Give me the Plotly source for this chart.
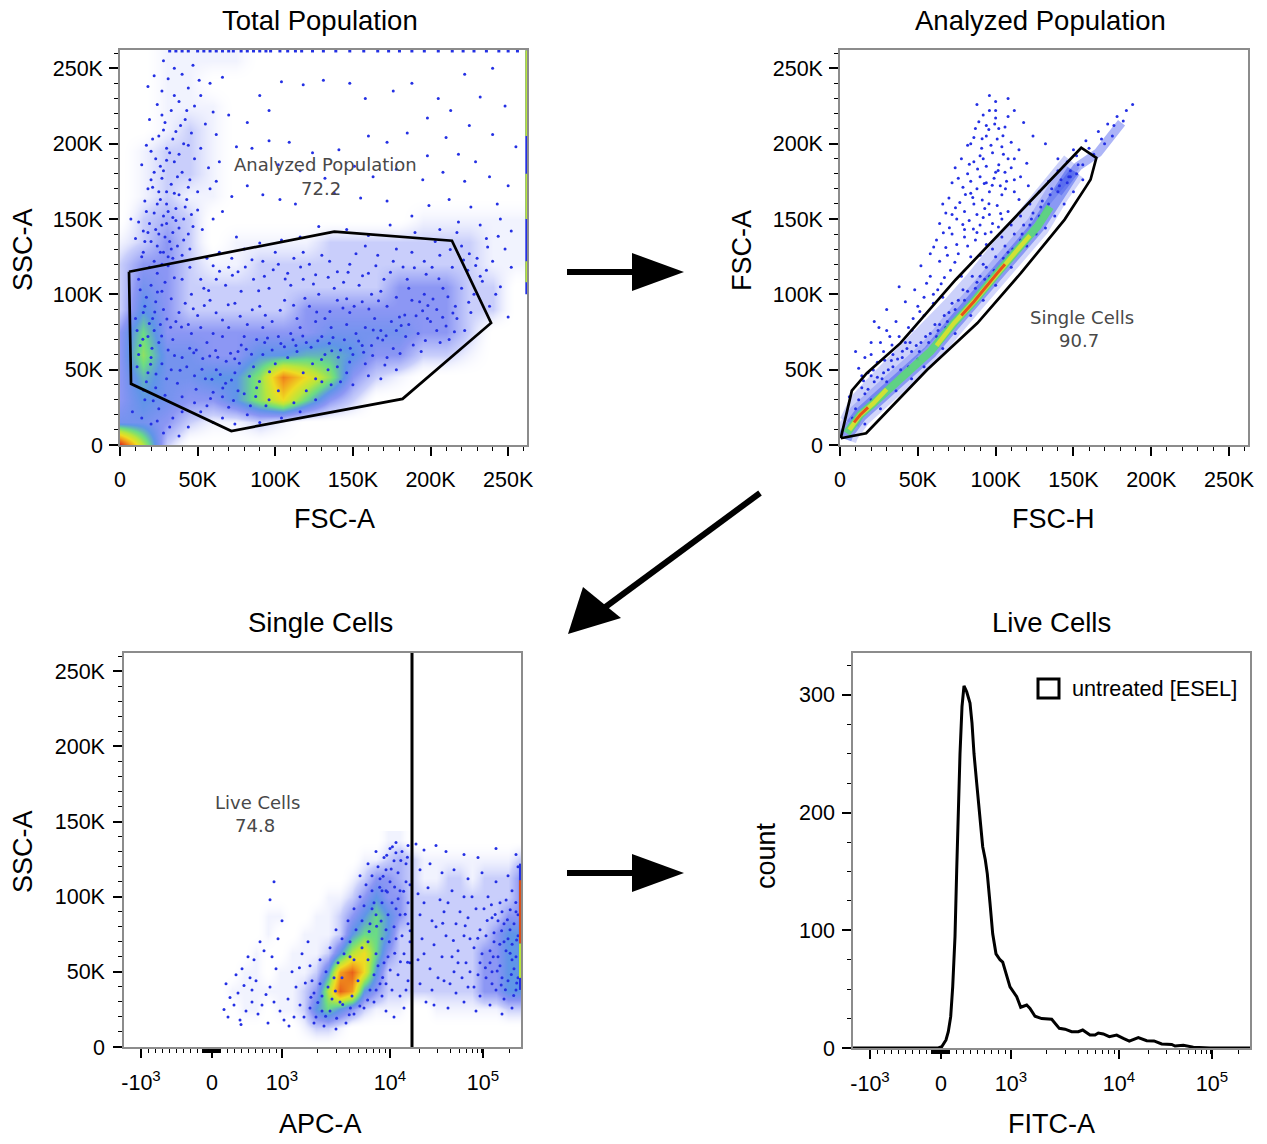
import plotly.graph_objects as go

W, H = 1267, 1144
BLUE = "#2430e4"

# ---------- Panel 1: Total Population (values in thousands) ----------
P1_GRID_X = [0, 15, 30, 45, 60, 75, 90, 105, 120, 135, 150, 165, 180, 195, 210, 225, 240, 255]
P1_GRID_Y = [0, 15, 30, 45, 60, 75, 90, 105, 120, 135, 150, 165, 180, 195, 210, 225, 240, 255]
P1_DENSITY = [
    [9, 5, 1, 0, 0, 0, 0, 0, 0, 0, 0, 0, 0, 0, 0, 0, 0, 0],
    [2.5, 2.5, 2, 1, .5, .5, 1, .5, 0, 0, 0, 0, 0, 0, 0, 0, 0, 0],
    [2, 3, 2.5, 2, 2, 3, 4.5, 6, 4, 2, 1, 0, 0, 0, 0, 0, 0, 0],
    [2, 3.5, 2.5, 2.5, 3, 3, 4.5, 7.5, 6, 4.5, 2, 1, .5, 0, 0, 0, 0, 0],
    [2, 4.5, 2.5, 2.5, 2, 2, 3, 3, 3.5, 3.5, 3, 2, 2, 1, 1, .5, 0, 0],
    [2, 4, 2, 2, 2, 2, 2, 2, 2, 2.5, 2.5, 2.5, 2.5, 2, 2, 1, 0, 0],
    [1, 3, 2, 1, 1, 1, 1, 1, 2, 2, 2, 2, 2, 2, 2, 1, 1, 0],
    [1, 2.5, 2, 1, 1, 1, 1, 1, 1, 1, 1, 1, 2, 2, 2, 1, 1, 0],
    [1, 2, 2, 1, .5, .5, 1, 1, 1, 1, 1, 1, 1, 1, 1, 1, .5, .5],
    [.5, 1, 2, 1, 0, .5, .5, .5, .5, 1, 1, 1, 1, 1, 1, 1, .5, .5],
    [0, 1, 1.5, 1, 0, 0, 0, 0, 0, 0, 0, 0, 0, .5, .5, .5, .5, .5],
    [0, .5, 1, .5, .5, 0, 0, 0, 0, 0, 0, 0, 0, 0, 0, 0, 0, 0],
    [0, .5, 1, 1, .5, 0, 0, 0, 0, 0, 0, 0, 0, 0, 0, 0, 0, 0],
    [0, .5, 1, 1, .5, 0, 0, 0, 0, 0, 0, 0, 0, 0, 0, 0, 0, 0],
    [0, 0, .5, 1, .5, 0, 0, 0, 0, 0, 0, 0, 0, 0, 0, 0, 0, 0],
    [0, 0, .5, .5, .5, 0, 0, 0, 0, 0, 0, 0, 0, 0, 0, 0, 0, 0],
    [0, 0, .5, .5, 0, 0, 0, 0, 0, 0, 0, 0, 0, 0, 0, 0, 0, 0],
    [0, 0, .5, .5, .5, .5, 0, 0, 0, 0, 0, 0, 0, 0, 0, 0, 0, 0],
]
P1_DOTS = [
 (28,255),(35,250),(47,252),(22,245),(31,243),(40,246),(58,240),(18,238),(27,235),(44,237),(52,232),(66,244),
 (38,228),(24,226),(33,222),(48,225),(60,221),(19,216),(29,214),(42,216),(55,213),(70,219),(36,208),(25,205),
 (46,207),(62,206),(17,199),(30,197),(41,200),(52,197),(23,190),(35,188),(48,190),(14,186),(28,182),(40,181),
 (57,184),(20,176),(33,173),(45,176),(62,175),(25,168),(38,166),(50,168),(16,162),(30,160),(42,158),(22,154),
 (34,151),(46,153),(12,148),(27,146),(38,144),(18,141),(29,138),(41,136),(24,132),(33,130),(15,128),(45,130),
 (21,171),(26,163),(31,155),(36,149),(19,147),(23,143),(28,152),(17,155),(34,141),(20,135),(26,128),(31,125),
 (37,132),(22,122),(16,135),(30,168),(37,178),(26,185),(32,194),(21,203),(39,212),(27,219),(44,171),(50,156),
 (10,137),(7,150),(53,143),(60,150),(66,155),(72,165),(64,188),(75,198),(58,170),(35,232),(43,222),(51,242),
 (82,214),(90,232),(96,222),(104,241),(118,239),(131,242),(148,240),(158,230),(176,235),(188,240),(205,230),(222,246),
 (240,250),(232,231),(248,225),(213,222),(198,217),(225,212),(210,204),(240,206),(255,198),(218,193),(229,188),(198,192),
 (85,197),(96,202),(109,201),(124,194),(141,196),(160,205),(172,201),(185,207),(102,186),(116,182),(132,177),(151,185),
 (163,178),(178,183),(195,176),(208,181),(222,175),(238,178),(250,172),(243,160),(226,158),(212,163),(199,159),(188,152),
 (82,172),(92,166),(103,163),(113,160),(138,167),(155,164),(172,162),(218,148),(232,146),(245,150),(252,142),(206,143),
 (75,138),(90,134),(104,136),(116,138),(128,145),(146,143),(160,139),(174,146),(190,141),(203,135),(217,141),(236,137),
 (248,130),(225,127),(240,122),(252,118),(232,112),(245,105),(228,100),(238,92),(226,88),(250,85),(222,76),(212,70),
 (12,110),(20,106),(27,102),(35,111),(45,118),(52,110),(60,119),(68,106),(76,115),(85,123),(93,112),(102,120),
 (110,106),(118,128),(126,113),(135,122),(144,108),(152,127),(160,114),(168,102),(176,122),(185,110),(193,95),(201,118),
 (208,104),(216,92),(198,84),(188,96),(180,85),(172,92),(164,84),(156,95),(148,88),(140,96),(132,84),(122,92),
 (114,84),(106,96),(98,82),(90,92),(82,80),(74,94),(66,83),(58,96),(50,86),(42,94),(36,82),(28,90),
 (16,92),(10,84),(22,76),(34,70),(46,74),(56,68),(66,72),(76,62),(88,70),(98,63),(110,74),(120,68),
 (130,72),(142,63),(152,74),(162,66),(172,58),(184,72),(194,62),(204,76),(146,48),(158,54),(168,44),(178,50),
 (136,40),(126,30),(116,22),(104,18),(94,26),(82,20),(70,25),(60,35),(48,46),(40,58),(30,44),(18,48),
 (12,60),(25,24),(16,30),(34,18),(44,12),(28,8),(38,6),(52,22),(8,22),(60,15),(20,14),(90,15),
 (14,125),(19,118),(24,114),(31,119),(13,103),(17,98),(23,95),(29,108),(33,97),(15,88),(21,84),(26,80),
 (11,76),(18,72),(25,68),(31,63),(13,66),(20,58),(27,54),(33,50),(11,52),(17,42),(23,38),(29,33),
 (37,41),(43,52),(49,37),(55,44),(62,50),(68,41),(74,48),(80,34),(86,52),(92,60),(100,54),(108,58),
 (114,62),(124,54),(132,60),(140,52),(150,60),(156,66),(166,71),(176,64),(186,80),(192,74),(200,82),(210,79),
 (217,84),(204,90),(196,100),(186,104),(178,98),(170,110),(162,100),(154,106),(146,97),(138,104),(128,100),(118,110),
 (108,114),(96,104),(86,110),(78,102),(70,118),(62,110),(54,104),(46,100),(40,110),(38,88),(44,80),(52,78),
 (60,74),(70,78),(80,72),(92,78),(102,72),(116,78),(126,82),(136,78),(146,80),(158,78),(168,76),(178,76),
 (220,104),(224,116),(214,118),(206,126),(196,122),(188,128),(178,130),(166,126),(158,132),(148,120),(140,115),(130,126),
 (122,120),(112,124),(100,128),(92,122),(80,130),(72,124),(64,128),(56,124),(230,124),(236,116),(242,100),(220,132),
 (40,32),(48,28),(56,26),(66,18),(74,14),(84,26),(96,30),(102,36),(112,28),(120,36),(130,42),(142,42),
 (150,40),(160,46),(24,16),(32,12),(14,18),(40,22),(66,32),(76,36),(88,38),(118,48),(126,44),(134,50),
 (27,120),(34,124),(40,126),(25,140),(30,147),(36,157),(24,160),(18,170),(27,177),(35,167),(43,163),(22,181),
 (30,189),(38,193),(44,199),(34,203),(28,209),(20,195),(41,150),(47,145),(15,142),(32,135),(28,128),(44,140),
 (47.5,61.2),(49.1,63),(53.3,57.4),(57.8,59.1),(61.6,62.7),(63,58.2),(68.4,55.6),(71.2,60.9),(73.9,57.3),(78.1,66.4),(81.3,63.5),(84.7,60.2),
 (93.2,68.1),(95,71),(103.6,67.3),(105.9,65.2),(111.4,69.8),(113.3,66.1),(117.7,72.4),(123.1,64.9),(127.4,69.2),(134.8,67.6),(137.2,71.3),(144.5,69.9),
 (148.3,64.2),(153.7,69.1),(156.9,61.5),(163.1,76.4),(169.2,69.7),(171.4,72.5),(174.8,81.9),(181.1,79.3),(183.4,86.2),(190.7,85.8),(194.9,89.1),(198.3,92.6),
 (201.6,96.9),(207.8,84.7),(211.2,98.4),(214.4,87.6),(160.3,90.2),(166.5,95.7),(150.8,92.1),(143.6,91),(135.2,88.6),(126.7,88.2),(119.1,97.4),(111.8,92.7),
 (103.2,89.4),(93.6,86.1),(85.2,89.7),(77.4,85.5),(69.7,93.1),(61.9,87.8),(54.3,92.6),(47.2,90.4),(39.6,78.3),(35.1,59.4),(38.7,49.6),(44.9,64.2),
 (52.8,50.2),(59.2,43.7),(64.6,46.8),(71.8,43.2),(76.9,54.2),(83.4,45.7),(89.8,42.1),(96.3,48.6),(66.2,37.9),(58.3,30.8),(73.1,29.6),(87.4,32.2),
 (140.6,58.3),(147.9,55.1),(136.4,62.6),(129.8,56.7),(162.7,59.4),(170.6,53.1),(180.4,60.8),(188.9,66.3),(196.7,69.4),(206.2,68.1),(215.4,75.2),(224.6,94.8),
 (20.6,64.2),(22.4,88.3),(18.9,80.7),(24.1,101.6),(14.7,70.1),(26.8,72.4),(30.2,83.6),(32.6,78.1),(19.7,53.6),(23.2,47.1),(15.2,36.4),(21.4,29.3),
 (233.4,108.6),(236.8,131.4),(243.6,138.6),(229.1,119.2),(221.3,122.7),(212.7,129.8),(205.4,110.3),(197.2,113.4),(189.6,117.6),(182.3,118.1),(174.2,114.7),(164.8,118.9),
 (156.2,112.4),(146.9,114.6),(134.1,111.3),(124.6,106.9),(116.3,118.2),(106.4,110.2),(98.7,116.3),(89.3,102.4),(80.7,118.1),(72.4,112.6),(64.1,115.3),(57.1,102.6),
]
P1_TOP_X = [32, 36, 40, 44, 50, 54, 58, 62, 66, 70, 73, 78, 82, 86, 90, 94, 97, 103, 108, 113, 117, 124, 131, 139, 148, 157, 166, 173, 180, 188, 196, 205, 214, 221, 228, 236, 244, 250, 256]
P1_TOP_Y = [261.5] * len(P1_TOP_X)
P1_EDGE_Y = [100, 262]
P1_EDGE_X = [261.7, 261.7]
P1_EDGE_HOT_Y = [108, 122, None, 150, 180, None, 205, 262]
P1_EDGE_HOT_X = [261.7, 261.7, None, 261.7, 261.7, None, 261.7, 261.7]
GATE1_X = [5.8, 7.1, 71.7, 182, 239, 213.8, 138, 5.8]
GATE1_Y = [115, 40.6, 9.3, 30.6, 81, 135.6, 141.6, 115]

# ---------- Panel 2: Analyzed Population (values in thousands) ----------
BAND_X = [3, 4.3, 12.9, 21.5, 36.6, 58.1, 73.2, 86.1, 101.2, 114.2, 127, 140, 150]
BAND_Y = [4, 7.8, 19.9, 27.7, 42.1, 62, 80.9, 95.3, 114.2, 129.7, 145.2, 167.4, 182]
UPPER_X = [6, 12, 21, 36, 57, 72, 85, 100, 113, 126, 139, 149]
UPPER_Y = [15, 28, 38, 53, 73, 92, 107, 126, 142, 158, 176, 188]
TAIL_X = [140, 152.9, 165.8, 180.9]
TAIL_Y = [167.4, 185, 194, 213.9]
CORE_X = [4.3, 12.9, 21.5, 36.6, 58.1, 73.2, 86.1, 101.2, 114.2, 127, 135]
CORE_Y = [7.8, 19.9, 27.7, 42.1, 62, 80.9, 95.3, 114.2, 129.7, 145.2, 158]
YELLOW_X = [6, 12.9, 21.5, 30, None, 62, 73.2, 86.1, 101.2, 114.2, 122]
YELLOW_Y = [10, 19.9, 27.7, 37, None, 66, 80.9, 95.3, 114.2, 129.7, 139]
RED_X = [9, 12.9, 18, None, 78, 86.1, 101.2, 106]
RED_Y = [15, 19.9, 25, None, 86, 95.3, 114.2, 120]
P2_DOTS = [
 (100,228),(88,226),(96,232),(108,230),(112,222),(92,219),(100,217),(106,211),(118,214),(87,210),(94,205),(101,203),
 (110,201),(82,199),(91,197),(98,194),(105,193),(115,196),(124,205),(78,190),(86,188),(94,185),(102,186),(110,184),
 (120,187),(74,184),(82,180),(90,178),(99,177),(107,175),(116,178),(72,174),(79,171),(88,170),(96,168),(104,166),
 (112,168),(70,164),(77,161),(86,160),(93,157),(101,159),(108,155),(68,154),(75,150),(83,149),(90,146),(98,147),
 (64,147),(72,140),(80,138),(87,136),(94,133),(62,136),(68,131),(76,127),(84,125),(58,127),(64,122),(71,116),
 (78,112),(52,119),(58,112),(65,107),(48,103),(54,98),(60,94),(42,95),(38,105),(30,90),(36,82),(25,78),
 (32,72),(20,68),(28,62),(16,58),(24,55),(12,51),(18,48),(34,60),(42,68),(47,84),(22,82),(10,62),
 (102,210),(96,222),(84,200),(90,192),(97,199),(108,190),(76,177),(84,167),(92,151),(103,172),(115,163),(121,172),
 (132,200),(140,190),(150,196),(158,202),(166,208),(172,213),(178,218),(184,222),(170,200),(163,193),(175,205),(182,215),
 (156,186),(148,178),(160,197),(168,203),(176,212),(188,226),
 (10,24),(16,34),(22,42),(28,48),(34,52),(40,58),(46,62),(52,68),(58,74),(64,80),(70,88),(76,96),
 (82,102),(88,108),(94,118),(100,125),(106,132),(112,140),(118,146),(124,154),(130,162),(136,170),(142,176),(148,182),
 (20,30),(30,42),(44,52),(50,57),(62,72),(68,78),(74,90),(80,96),(90,112),(96,112),(108,128),(116,136),
 (122,146),(128,152),(134,160),(140,168),(146,174),(152,180),(156,176),(150,168),(144,160),(138,152),(132,144),(126,140),
 (120,132),(110,118),(100,106),(92,96),(84,86),(74,74),(66,64),(54,52),(46,44),(36,36),(26,24),(16,14),
 (12,30),(18,37),(24,45),(31,50),(37,57),(43,64),(49,66),(55,72),(61,80),(67,86),(72,94),(79,103),
 (85,112),(92,120),(98,130),(104,138),(110,146),(116,152),(122,160),(128,168),(134,175),(140,182),(146,188),(152,192),
 (14,38),(20,46),(27,44),(33,56),(39,50),(45,68),(51,62),(57,68),(63,76),(69,82),(75,84),(81,90),
 (87,104),(93,110),(99,116),(105,124),(111,130),(117,140),(123,150),(129,158),(135,166),(141,172),(147,178),(153,186),
 (66,160),(72,153),(80,155),(88,153),(96,153),(104,150),(80,143),(88,141),(75,133),(82,132),(69,126),(90,126),
 (94,174),(100,181),(106,181),(112,176),(84,175),(92,190),(86,204),(104,198),(112,190),(100,222),(94,212),(108,218),
 (54,86),(60,100),(66,98),(50,92),(44,78),(38,72),(30,76),(26,68),(20,60),(14,46),(6,32),(8,18),
 (91.3,203.2),(95.6,209.4),(89.2,214.6),(99.4,213.1),(104.7,205.3),(83.1,186.4),(88.4,183.2),(92.7,173.6),(97.8,172.4),(101.6,182.2),(106.3,170.1),(80.6,166.2),
 (85.3,164.3),(91.4,162.6),(95.7,160.1),(103.2,153.6),(74.2,157.4),(78.9,146.3),(85.7,143.4),(93.3,140.2),(97.1,141.3),(101.8,144.6),(70.3,144.2),(66.4,140.9),
 (60.2,131.4),(73.8,121.3),(67.1,111.2),(55.6,107.4),(62.8,103.1),(51.3,88.6),(46.2,76.2),(33.4,66.4),(40.1,62.2),(28.7,56.3),(21.4,49.8),(15.1,42.7),
]
GATE2_X = [0.5, 7.6, 17.2, 38.8, 74.3, 155, 164.7, 161, 158.3, 144.3, 116.3, 88.3, 56, 16.8, 0.5]
GATE2_Y = [4.5, 36.1, 47.7, 67.6, 109.7, 197.3, 190.6, 176.2, 171.8, 149.6, 114.2, 80.9, 49.9, 7.8, 4.5]

# ---------- Panel 3: Single Cells (x = biexponential display channel, y in thousands) ----------
P3_GRID_X = [96, 108, 120, 132, 144, 156, 168, 180, 192, 204, 216, 228, 240, 252, 264, 276, 288, 300, 312, 324, 336, 348, 360, 372, 384, 396]
P3_GRID_Y = [0, 12.5, 25, 37.5, 50, 62.5, 75, 87.5, 100, 112.5, 125, 137.5]
P3_DENSITY = [
    [0] * 26,
    [0, 0, 0, 0, 0, 0, 0, .5, 1, 1, .5, 0, 0, 0, 0, 0, 0, 0, 0, 0, 0, 0, 0, 0, 0, 0],
    [0, 0, .5, .5, 0, .5, .5, 1, 3, 4, 3, 2, 1, .5, .5, .5, 0, 0, .5, .5, .5, .5, .5, .5, 1, 1],
    [0, .5, .5, .5, .5, .5, .5, 1, 2, 5, 8, 7, 3, 2, 1, 1, 1, 1, 1, 1, 1, 1, 2, 2, 3, 3],
    [0, 0, .5, .5, 0, .5, .5, .5, 1, 3, 7, 8, 6, 3, 1, 1, 1, 1, 1, 1, 1, 1, 2, 2, 3, 3],
    [0, 0, 0, .5, 0, 0, .5, .5, .5, 1, 3, 5, 6, 4, 2, 1, 1, 1, 1, 1, 1, 1, 2, 2, 3, 3],
    [0, 0, 0, 0, .5, 0, 0, .5, .5, .5, 1, 3, 4, 4, 3, 1, 1, 1, 1, 1, 1, 1, 1, 2, 3, 3],
    [0, 0, 0, 0, .5, .5, 0, 0, .5, .5, 1, 2, 3, 4, 3, 2, 1, 1, 1, 1, 1, 1, 1, 1, 2, 2],
    [0, 0, 0, 0, 0, 0, 0, 0, 0, .5, .5, 1, 2, 3, 2, 2, 1, 1, 1, 1, 1, 1, 1, 1, 1, 2],
    [0, 0, 0, 0, 0, 0, 0, 0, 0, 0, 0, .5, 1, 2, 2, 1.5, 1, .5, .5, 1, 1, .5, 1, 1, 1, 2],
    [0, 0, 0, 0, 0, 0, 0, 0, 0, 0, 0, 0, .5, .5, 1, 1.5, 1, .5, .5, .5, .5, .5, .5, .5, .5, 1],
    [0, 0, 0, 0, 0, 0, 0, 0, 0, 0, 0, 0, 0, 0, .5, .5, 0, 0, 0, 0, 0, 0, 0, 0, 0, 0],
]
P3_DOTS = [
 (100,25),(104,20),(110,28),(106,33),(116,18),(122,24),(128,30),(114,36),(134,22),(138,28),(142,35),(120,41),
 (126,46),(112,48),(118,52),(132,44),(130,58),(146,40),(150,30),(156,24),(160,18),(152,52),(148,60),(140,64),
 (136,70),(124,60),(154,72),(158,84),(146,98),(150,110),(128,38),(102,42),(117,15),(144,16),(165,14),(170,20),
 (164,32),(172,40),(176,28),(168,50),(178,62),(184,70),(186,54),(180,20),(190,16),(200,14),(212,12),(222,16),
 (230,22),(240,26),(250,30),(258,34),(262,24),(270,20),(280,26),(190,36),(196,58),(206,66),(212,78),(218,72),
 (224,84),(230,92),(236,100),(242,108),(248,114),(254,120),(260,126),(266,132),(272,136),(278,130),(284,134),(250,96),
 (258,104),(266,110),(274,116),(282,122),(268,96),(276,88),(284,96),(272,72),(280,62),(286,70),(264,60),(274,48),
 (284,44),(262,42),(252,88),(238,84),(226,60),(210,46),(198,34),(206,24),(216,30),(228,34),(262,78),(244,70),
 (292,135),(300,131),(312,134),(322,130),(340,128),(354,126),(372,132),(392,128),(296,118),(306,122),(318,116),(330,118),
 (344,112),(358,116),(372,110),(384,114),(394,120),(294,102),(304,106),(316,98),(328,104),(340,100),(352,92),(364,100),
 (376,96),(388,104),(296,88),(308,84),(320,90),(332,82),(344,86),(356,78),(368,86),(380,82),(392,90),(298,72),
 (310,68),(322,74),(334,64),(346,72),(358,62),(370,70),(382,64),(394,74),(294,58),(306,52),(318,60),(330,50),
 (342,56),(354,48),(366,56),(378,46),(390,52),(296,42),(308,38),(320,44),(332,36),(344,40),(356,34),(368,42),
 (380,32),(392,38),(310,28),(324,26),(340,30),(352,24),(366,28),(378,22),(388,26),(302,30),
 (186,26),(192,20),(196,42),(202,50),(208,32),(214,56),(220,62),(226,70),(232,78),(238,66),(244,58),(250,48),
 (256,42),(252,62),(258,72),(246,82),(240,94),(248,104),(256,112),(262,118),(270,124),(276,104),(282,110),(264,88),
 (270,80),(278,74),(284,82),(260,56),(268,38),(276,34),(246,38),(234,44),(254,54),(236,114),(244,122),(252,130),
 (258,96),(286,56),(282,38),(286,108),(272,92),(262,104),(248,92),(230,58),(218,46),(204,40),(198,24),(188,44),
 (300,96),(312,80),(324,96),(336,90),(348,100),(360,92),(370,76),(378,90),(386,78),(394,88),(350,66),(362,74),
 (374,60),(384,72),(392,60),(340,74),(328,60),(300,62),(314,46),(326,42),(338,46),(350,40),(362,46),(372,38),
 (384,44),(394,46),(368,50),(376,54),(388,58),(356,56),(346,50),(334,56),(366,64),(380,70),(390,82),(374,84),
 (263.4,103.2),(267.2,118.4),(259.1,113.6),(255.7,106.3),(270.6,106.4),(274.1,98.6),(279.6,103.7),(283.4,126.2),(276.8,124.1),(271.9,129.3),(262.7,127.6),(268.4,133.2),
 (245.2,76.8),(252.6,80.3),(257.1,83.9),(265.3,70.1),(270.7,62.4),(276.4,56.8),(266.2,51.3),(258.6,46.2),(252.1,37.9),(243.6,31.2),(235.8,27.3),(226.4,25.9),
 (201.6,20.4),(193.8,29.6),(186.9,33.1),(181.3,42.6),(175.4,52.8),(212.6,19.2),(225.2,21.4),(218.7,28.3),(211.4,37.2),(283.6,56.4),(286.1,77.4),(281.2,88.3),
 (363.2,84.1),(367.4,94.6),(371.2,88.2),(377.6,77.4),(383.4,84.6),(388.1,68.3),(392.6,71.2),(386.2,91.4),(382.1,97.8),(391.8,96.2),(375.8,68.4),(369.2,60.1),
 (361.4,52.7),(373.2,50.6),(381.4,38.1),(387.3,48.2),(392.7,42.6),(377.2,41.3),(389.7,34.2),(386.1,62.4),(353.8,72.4),(341.2,80.6),(329.4,70.8),(318.7,82.4),
]
P3_EDGE_BLUE_Y = [38, 122]
P3_EDGE_YELLOW_Y = [46, 69]
P3_EDGE_RED_Y = [69, 111]
GATE3_X = [288, 288]
GATE3_Y = [-2, 262.144]

# ---------- Panel 4: Live Cells histogram ----------
HIST_X = [0, 85.3, 88.7, 93, 95.3, 97.7, 99.7, 102, 103.7, 105.3, 107, 109, 111, 113.7, 117, 119, 121, 123.7, 126.3,
          129.7, 132.3, 134.3, 137, 139.7, 143, 147, 149.7, 152, 157, 163.7, 167.7, 173.7, 177, 182, 188.7, 198.7,
          206.3, 212, 218.7, 225.3, 229.7, 237, 242, 245.3, 250.3, 256.3, 263.7, 270.3, 276.3, 285.3, 293.7, 301,
          308.7, 318.7, 322, 330.3, 340.3, 357, 397]
HIST_Y = [0, 0, 1.1, 6.8, 13.9, 26.6, 52, 94.6, 151, 208, 250, 290, 307.6, 302.7, 293, 276, 250, 225, 199,
          171, 160, 148, 123, 97, 80, 75, 73, 66, 52, 43.6, 34.6, 36.5, 33.7, 27, 25, 24.4,
          16.7, 16, 13.9, 13.9, 15.3, 11, 11, 12.7, 11.9, 9.6, 11, 8.2, 5.9, 8.8, 6.2, 6,
          3.4, 3, 1.7, 2.4, 0.7, 0, 0]

# Axis ticks
K_TICKS = [0, 50, 100, 150, 200, 250]
K_LABELS = ["0", "50K", "100K", "150K", "200K", "250K"]
BI_TICKS = [17, 88, 158, 266, 359]
BI_LABELS = ["-10<sup>3</sup>", "0", "10<sup>3</sup>", "10<sup>4</sup>", "10<sup>5</sup>"]
BI_MINOR = [24, 31, 38, 45, 52, 59, 66, 73, 78, 79, 80, 81, 82, 83, 84, 85, 86, 87, 88, 89, 90, 91, 92, 93, 94, 95, 96,
            103, 110, 117, 124, 131, 138, 145, 152, 193, 212, 225, 234, 242, 249, 255, 261,
            295, 313, 326, 335, 342, 348, 353, 357, 385]

COLORSCALE = [
    [0, "rgba(255,255,255,0)"], [1/9, "rgba(60,80,240,0.28)"], [2/9, "rgba(45,65,235,0.55)"],
    [3/9, "rgba(50,120,225,0.78)"], [4/9, "rgba(90,215,120,0.9)"], [5/9, "#b8e63c"],
    [6/9, "#eedc22"], [7/9, "#f2a01e"], [8/9, "#e8601a"], [1, "#d9261a"],
]
FONT = "Liberation Sans, Arial, sans-serif"
LABEL_FONT = "DejaVu Sans, sans-serif"


def unzip(pairs):
    return [p[0] for p in pairs], [p[1] for p in pairs]


fig = go.Figure()


def add_dots(pairs, ax):
    xs, ys = unzip(pairs)
    fig.add_trace(go.Scatter(x=xs, y=ys, mode="markers", xaxis=f"x{ax}", yaxis=f"y{ax}",
                             marker=dict(size=3, color=BLUE, line=dict(width=0)), hoverinfo="skip"))


def add_line(xs, ys, ax, color, width):
    fig.add_trace(go.Scatter(x=xs, y=ys, mode="lines", xaxis=f"x{ax}", yaxis=f"y{ax}",
                             line=dict(color=color, width=width), hoverinfo="skip"))


def add_density(gx, gy, z, ax):
    fig.add_trace(go.Heatmap(x=gx, y=gy, z=z, xaxis=f"x{ax}", yaxis=f"y{ax}", zmin=0, zmax=9, zsmooth="best",
                             colorscale=COLORSCALE, showscale=False, hoverinfo="skip"))


# Panel 1
add_density(P1_GRID_X, P1_GRID_Y, P1_DENSITY, 1)
add_dots(P1_DOTS, 1)
add_line(P1_EDGE_X, P1_EDGE_Y, 1, BLUE, 2)
add_line(P1_EDGE_HOT_X, P1_EDGE_HOT_Y, 1, "#b8e63c", 2)
fig.add_trace(go.Scatter(x=P1_TOP_X, y=P1_TOP_Y, mode="markers", xaxis="x1", yaxis="y1", hoverinfo="skip",
                         marker=dict(size=3, symbol="square", color=BLUE, line=dict(width=0))))
add_line(GATE1_X, GATE1_Y, 1, "black", 2.7)

# Panel 2
add_line(BAND_X, BAND_Y, 2, "rgba(50,70,235,0.22)", 24)
add_line(UPPER_X, UPPER_Y, 2, "rgba(50,70,235,0.25)", 20)
add_line(TAIL_X, TAIL_Y, 2, "rgba(50,70,235,0.4)", 9)
add_line(BAND_X, BAND_Y, 2, "rgba(50,80,235,0.45)", 14)
add_dots(P2_DOTS, 2)
add_line(CORE_X, CORE_Y, 2, "rgba(90,215,120,0.9)", 8)
add_line(YELLOW_X, YELLOW_Y, 2, "#cfe235", 4.5)
add_line(RED_X, RED_Y, 2, "#e8501a", 3)
add_line(GATE2_X, GATE2_Y, 2, "black", 2.7)

# Panel 3
add_density(P3_GRID_X, P3_GRID_Y, P3_DENSITY, 3)
add_dots(P3_DOTS, 3)
add_line([396.2, 396.2], P3_EDGE_BLUE_Y, 3, BLUE, 2.5)
add_line([396.2, 396.2], P3_EDGE_YELLOW_Y, 3, "#b8e63c", 2.5)
add_line([396.2, 396.2], P3_EDGE_RED_Y, 3, "#d9501a", 2.5)
fig.add_trace(go.Scatter(x=GATE3_X, y=GATE3_Y, mode="lines", xaxis="x3", yaxis="y3", cliponaxis=False,
                         line=dict(color="black", width=3), hoverinfo="skip"))

# Panel 4
add_line(HIST_X, HIST_Y, 4, "black", 3)


def px_x(v):
    return v / W


def px_y(v):
    return 1 - v / H


def axis_common(domain_px, anchor, axis):
    lo, hi = domain_px
    if axis == "x":
        d = [px_x(lo), px_x(hi)]
    else:
        d = [px_y(hi), px_y(lo)]
    return dict(domain=d, anchor=anchor, automargin=False, showgrid=False, zeroline=False, showline=True, mirror=True,
                linecolor="#8c8c8c", linewidth=1.5, ticks="outside", ticklen=9, tickwidth=2, tickcolor="black",
                tickfont=dict(family=FONT, size=21.5, color="black"), layer="above traces")


def k_axis(domain_px, anchor, axis, standoff):
    a = axis_common(domain_px, anchor, axis)
    a.update(range=[0, 262.144], tickmode="array", tickvals=K_TICKS, ticktext=K_LABELS,
             ticklabelstandoff=standoff,
             minor=dict(dtick=10, ticks="outside", ticklen=4, tickwidth=1, tickcolor="black"))
    return a


def bi_axis(domain_px, anchor):
    a = axis_common(domain_px, anchor, "x")
    a.update(range=[0, 397], tickmode="array", tickvals=BI_TICKS, ticktext=BI_LABELS,
             ticklabelstandoff=6,
             minor=dict(tickmode="array", tickvals=BI_MINOR, ticks="outside", ticklen=4, tickwidth=1, tickcolor="black"))
    return a


count_axis = axis_common((653, 1048), "x4", "y")
count_axis.update(range=[0, 335.6], tickmode="array", tickvals=[0, 100, 200, 300], ticktext=["0", "100", "200", "300"],
                  ticklabelstandoff=3,
                  minor=dict(dtick=25, ticks="outside", ticklen=4, tickwidth=1, tickcolor="black"))

fig.update_layout(
    template="none",
    width=W, height=H, margin=dict(l=0, r=0, t=0, b=0, pad=0, autoexpand=False), showlegend=False,
    paper_bgcolor="white", plot_bgcolor="white",
    xaxis1=k_axis((120, 527), "y1", "x", 5), yaxis1=k_axis((50, 445), "x1", "y", 2),
    xaxis2=k_axis((840, 1248), "y2", "x", 5), yaxis2=k_axis((50, 445), "x2", "y", 2),
    xaxis3=bi_axis((124, 521), "y3"), yaxis3=k_axis((653, 1047), "x3", "y", 4),
    xaxis4=bi_axis((853, 1250), "y4"), yaxis4=count_axis,
)

TEXTS = [
    # text, x px, y px, size, rotation, family, colour
    ("Total Population", 320, 21, 27.5, 0, FONT, "black"),
    ("Analyzed Population", 1040, 21, 27.5, 0, FONT, "black"),
    ("Single Cells", 320, 622, 27.5, 0, FONT, "black"),
    ("Live Cells", 1051, 622, 27.5, 0, FONT, "black"),
    ("FSC-A", 334, 519, 27, 0, FONT, "black"),
    ("FSC-H", 1053, 519, 27, 0, FONT, "black"),
    ("APC-A", 320, 1124, 27, 0, FONT, "black"),
    ("FITC-A", 1051, 1124, 27, 0, FONT, "black"),
    ("SSC-A", 23, 250, 27, -90, FONT, "black"),
    ("FSC-A", 742, 250, 27, -90, FONT, "black"),
    ("SSC-A", 23, 852, 27, -90, FONT, "black"),
    ("count", 766, 856, 27, -90, FONT, "black"),
    ("Analyzed Population", 325, 165, 18, 0, LABEL_FONT, "#484848"),
    ("72.2", 321, 188, 18, 0, LABEL_FONT, "#484848"),
    ("Single Cells", 1082, 317, 18, 0, LABEL_FONT, "#484848"),
    ("90.7", 1079, 340, 18, 0, LABEL_FONT, "#484848"),
    ("Live Cells", 258, 802, 18, 0, LABEL_FONT, "#484848"),
    ("74.8", 255, 825, 18, 0, LABEL_FONT, "#484848"),
    ("untreated [ESEL]", 1154.5, 688, 21.7, 0, FONT, "black"),
]
for text, x, y, size, rot, family, color in TEXTS:
    fig.add_annotation(text=text, x=px_x(x), y=px_y(y), xref="paper", yref="paper", showarrow=False,
                       xanchor="center", yanchor="middle", textangle=rot,
                       font=dict(family=family, size=size, color=color))


def poly(points):
    return "M" + " L".join(f"{px_x(x):.5f},{px_y(y):.5f}" for x, y in points) + " Z"


shapes = [
    dict(type="rect", xref="paper", yref="paper", x0=px_x(1038), x1=px_x(1059), y0=px_y(698), y1=px_y(679),
         line=dict(color="black", width=3), fillcolor="white"),
]
for y0 in (272, 873):
    shapes.append(dict(type="line", xref="paper", yref="paper", x0=px_x(567), x1=px_x(640), y0=px_y(y0), y1=px_y(y0),
                       line=dict(color="black", width=6)))
    shapes.append(dict(type="path", xref="paper", yref="paper", path=poly([(632, y0 - 19), (632, y0 + 19), (684, y0)]),
                       fillcolor="black", line=dict(width=0)))
shapes.append(dict(type="line", xref="paper", yref="paper", x0=px_x(760), y0=px_y(493), x1=px_x(600), y1=px_y(611),
                   line=dict(color="black", width=6)))
shapes.append(dict(type="path", xref="paper", yref="paper", path=poly([(568, 634), (583, 587), (621, 618)]),
                   fillcolor="black", line=dict(width=0)))
fig.update_layout(shapes=shapes)

fig.write_html("out.html", config=dict(displayModeBar=False),
               post_script="document.body.style.margin='0';document.documentElement.style.overflow='hidden';")
